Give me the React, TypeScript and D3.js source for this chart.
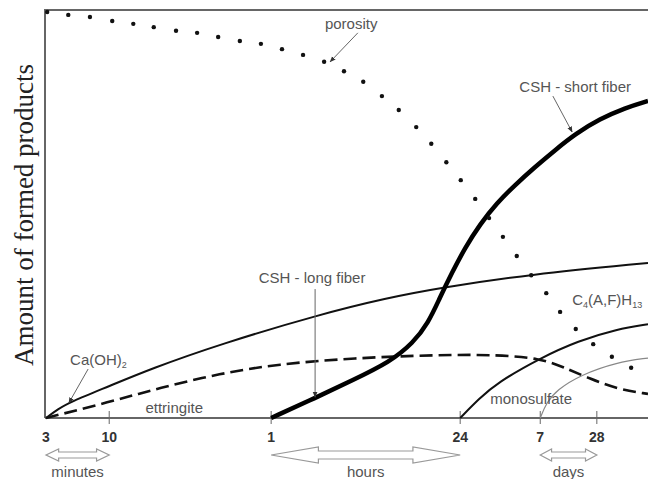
import React from 'react';
import * as d3 from 'd3';

// time axis is a stretched (non-uniform) scale: positions of the ticks in axis units 0..10
const tickLabels = ['3', '10', '1', '24', '7', '28'];
const tickAt = [0, 1.05, 3.74, 6.88, 8.21, 9.15];

// period arrows under the axis, given by tick index
const spanLabels = ['minutes', 'hours', 'days'];
const spanFrom = [0, 2, 4];
const spanTo = [1, 3, 5];

// [time unit, amount %]
const porosity: [number, number][] = [
  [0.02, 99.5], [0.37, 98.8], [0.73, 98.3], [1.1, 97.3], [1.45, 96.6], [1.79, 95.8],
  [2.16, 94.9], [2.51, 94.4], [2.86, 93.4], [3.22, 92.4], [3.57, 91.7], [3.92, 90.4],
  [4.27, 89.0], [4.62, 87.3], [4.95, 85.0], [5.27, 82.4], [5.58, 78.9], [5.86, 75.5],
  [6.15, 71.3], [6.4, 67.2], [6.65, 62.7], [6.89, 58.3], [7.13, 53.7], [7.36, 49.0],
  [7.59, 44.4], [7.82, 39.7], [8.06, 35.0], [8.31, 30.6], [8.54, 26.0], [8.8, 21.8],
  [9.09, 18.1], [9.4, 15.0], [9.72, 12.3],
];

const caOH: [number, number][] = [
  [0, 0], [0.2, 2.2], [0.4, 3.9], [1.05, 7.8], [1.73, 12.0], [2.89, 18.1], [4.55, 25.4],
  [5.66, 29.4], [6.55, 31.9], [8.04, 35.2], [10, 38.0],
];

const ettringite: [number, number][] = [
  [0, 0], [1.05, 3.9], [1.89, 7.4], [2.89, 10.9], [3.84, 13.2], [5.1, 14.7],
  [6.55, 15.5], [7.5, 15.5], [8.21, 14.6], [8.59, 12.5], [9.04, 9.6], [9.49, 7.1], [10, 5.9],
];

const cshFiber: [number, number][] = [
  [3.74, 0], [4.47, 4.9], [5.1, 9.3], [5.71, 13.7], [6.1, 18.4], [6.35, 23.3],
  [6.54, 29.4], [6.74, 35.5], [6.96, 41.7], [7.21, 47.5], [7.49, 52.7], [7.79, 57.1],
  [8.12, 61.5], [8.46, 65.7], [8.79, 69.6], [9.2, 73.3], [9.62, 76.0], [10, 77.7],
];

const c4afh: [number, number][] = [
  [6.88, 0], [7.2, 4.8], [7.49, 8.6], [8.21, 14.7], [8.84, 18.9], [9.49, 21.8], [10, 23.0],
];

const monosulfate: [number, number][] = [
  [8.21, 0], [8.31, 3.7], [8.49, 6.9], [8.87, 10.5], [9.49, 13.7], [10, 14.7],
];

const W = 648;
const H = 479;
const margin = { top: 10, right: 0, bottom: 61, left: 46 };

const sans = '"Liberation Sans", Arial, sans-serif';
const grey = '#555';

function doubleArrow(x0: number, x1: number, yc: number) {
  const w = x1 - x0;
  const hl = w > 120 ? w * 0.25 : w * 0.2;
  const hh = w > 120 ? 8 : 6;
  const sh = w > 120 ? 4 : 3;
  return [
    `M${x0},${yc}`, `L${x0 + hl},${yc - hh}`, `L${x0 + hl},${yc - sh}`, `L${x1 - hl},${yc - sh}`,
    `L${x1 - hl},${yc - hh}`, `L${x1},${yc}`, `L${x1 - hl},${yc + hh}`, `L${x1 - hl},${yc + sh}`,
    `L${x0 + hl},${yc + sh}`, `L${x0 + hl},${yc + hh}`, 'Z',
  ].join(' ');
}

export default function App() {
  const x = d3.scaleLinear().domain([0, 10]).range([margin.left, W - margin.right]);
  const y = d3.scaleLinear().domain([0, 100]).range([H - margin.bottom, margin.top]);

  const line = d3.line<[number, number]>()
    .x(d => x(d[0]))
    .y(d => y(d[1]))
    .curve(d3.curveBasis);

  const y0 = y(0);

  // annotation leader: label anchor -> point on curve (data units)
  const leader = (a: [number, number], b: [number, number]) => (
    <line x1={x(a[0])} y1={y(a[1])} x2={x(b[0])} y2={y(b[1])}
      stroke="#666" strokeWidth={1} markerEnd="url(#ah)" />
  );

  return (
    <svg width={W} height={H} style={{ position: 'absolute', left: 0, top: 0, background: '#fff' }}>
      <defs>
        <marker id="ah" viewBox="0 0 10 10" refX="9" refY="5" markerWidth="6" markerHeight="6" orient="auto">
          <path d="M0,1 L10,5 L0,9 Z" fill="#333" />
        </marker>
      </defs>
      <rect width={W} height={H} fill="#fff" />

      {/* frame */}
      <line x1={x(0)} x2={x(10)} y1={y(100)} y2={y(100)} stroke="#666" strokeWidth={2} />
      <line x1={x(0) - 1} x2={x(0) - 1} y1={y(100) - 1} y2={y0} stroke="#666" strokeWidth={2} />
      <line x1={x(0) - 1} x2={x(10)} y1={y0} y2={y0} stroke="#666" strokeWidth={2} />

      {/* ticks */}
      {tickAt.map((t, i) => (
        <g key={i}>
          {i > 0 && <line x1={x(t)} x2={x(t)} y1={y0 - 7} y2={y0 + 6} stroke="#666" strokeWidth={1} />}
          <text x={x(t)} y={y0 + 24} textAnchor="middle" fontFamily={sans} fontWeight="bold"
            fontSize={14} fill="#333">{tickLabels[i]}</text>
        </g>
      ))}

      {/* period arrows */}
      {spanLabels.map((s, i) => {
        const a = x(tickAt[spanFrom[i]]);
        const b = x(tickAt[spanTo[i]]);
        return (
          <g key={s}>
            <path d={doubleArrow(a, b, y0 + 37)} fill="#fff" stroke="#999" strokeWidth={1.2} />
            <text x={(a + b) / 2} y={y0 + 59} textAnchor="middle" fontFamily={sans} fontSize={15}
              fill={grey}>{s}</text>
          </g>
        );
      })}

      {/* curves */}
      <path d={line(caOH) ?? ''} fill="none" stroke="#111" strokeWidth={2} />
      <path d={line(ettringite) ?? ''} fill="none" stroke="#111" strokeWidth={2.6} strokeDasharray="13 6" />
      <path d={line(c4afh) ?? ''} fill="none" stroke="#111" strokeWidth={2} />
      <path d={line(monosulfate) ?? ''} fill="none" stroke="#888" strokeWidth={1.2} />
      <path d={line(cshFiber) ?? ''} fill="none" stroke="#000" strokeWidth={4.5} />
      {porosity.map((d, i) => (
        <circle key={i} cx={x(d[0])} cy={y(d[1])} r={2.2} fill="#111" />
      ))}

      {/* labels */}
      <g fontFamily={sans} fontSize={15} fill={grey}>
        <text x={x(5.07)} y={y(95.3)} textAnchor="middle">porosity</text>
        {leader([5.18, 94.4], [4.72, 87.3])}

        <text x={x(8.79)} y={y(79.9)} textAnchor="middle">CSH - short fiber</text>
        {leader([8.42, 78.9], [8.74, 70.1])}

        <text x={x(4.42)} y={y(33.1)} textAnchor="middle">CSH - long fiber</text>
        {leader([4.47, 31.6], [4.47, 5.1])}

        <text x={x(0.4)} y={y(13.0)}>Ca(OH)<tspan fontSize={9} dy={3}>2</tspan></text>
        {leader([0.7, 12.0], [0.38, 3.7])}

        <text x={x(2.13)} y={y(1.2)} textAnchor="middle">ettringite</text>

        <text x={x(8.74)} y={y(27.7)}>
          C<tspan fontSize={9} dy={3}>4</tspan><tspan dy={-3}>(A,F)H</tspan><tspan fontSize={9} dy={3}>13</tspan>
        </text>

        <text x={x(7.38)} y={y(3.4)}>monosulfate</text>
      </g>

      {/* y axis title */}
      <text transform={`translate(33,${(y(100) + y0) / 2 + 1}) rotate(-90)`} textAnchor="middle"
        fontFamily='"Liberation Serif", "Times New Roman", serif' fontSize={27} fill="#222">
        Amount of formed products
      </text>
    </svg>
  );
}
